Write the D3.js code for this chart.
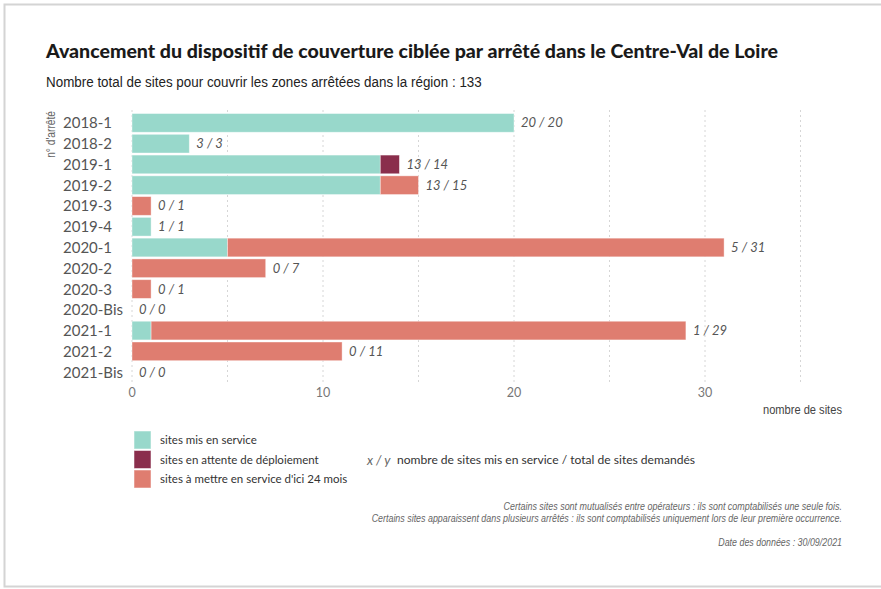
<!DOCTYPE html>
<html>
<head>
<meta charset="utf-8">
<script src="https://cdn.jsdelivr.net/npm/d3@7"></script>
<style>
  body { margin: 0; background: #fff; }
  svg { display: block; }
</style>
</head>
<body>
<script>
// data
const arretes = ["2018-1", "2018-2", "2019-1", "2019-2", "2019-3", "2019-4", "2020-1", "2020-2", "2020-3", "2020-Bis", "2021-1", "2021-2", "2021-Bis"];
const enService = [20, 3, 13, 13, 0, 1, 5, 0, 0, 0, 1, 0, 0];
const enAttente = [0, 0, 1, 0, 0, 0, 0, 0, 0, 0, 0, 0, 0];
const aMettre = [0, 0, 0, 2, 1, 0, 26, 7, 1, 0, 28, 11, 0];
const xTicks = [0, 10, 20, 30];
const gridTicks = [0, 5, 10, 15, 20, 25, 30, 35];
const seriesNames = ["sites mis en service", "sites en attente de déploiement", "sites à mettre en service d'ici 24 mois"];
const seriesColors = ["#98d8cb", "#8a2e4c", "#df7d70"];
const notes = [
  "Certains sites sont mutualisés entre opérateurs : ils sont comptabilisés une seule fois.",
  "Certains sites apparaissent dans plusieurs arrêtés : ils sont comptabilisés uniquement lors de leur première occurrence.",
  "Date des données : 30/09/2021"
];

const width = 881, height = 589;
const narrow = "'Liberation Sans', Arial, sans-serif";
const geo = "Lato, 'Open Sans', sans-serif";

const svg = d3.select("body").append("svg").attr("width", width).attr("height", height);

// squeeze a narrow-looking text to a target width (no condensed font installed)
function squeeze(sel, x0, w) {
  sel.each(function() {
    const k = w / this.getComputedTextLength();
    d3.select(this).attr("transform", `translate(${x0},0) scale(${k},1) translate(${-x0},0)`);
  });
  return sel;
}

// frame
svg.append("rect").attr("x", 4.5).attr("y", 4.5).attr("width", width + 10).attr("height", 582)
  .attr("fill", "none").attr("stroke", "#d4d4d4").attr("stroke-width", 2);

svg.append("text").attr("x", 46).attr("y", 58).attr("font-family", geo).attr("font-weight", "900")
  .attr("font-size", "18px").attr("fill", "#1a1a1a")
  .attr("textLength", 732).attr("lengthAdjust", "spacingAndGlyphs")
  .text("Avancement du dispositif de couverture ciblée par arrêté dans le Centre-Val de Loire");
svg.append("text").attr("x", 46).attr("y", 87).attr("font-family", narrow).attr("font-size", "15px").attr("fill", "#222")
  .text("Nombre total de sites pour couvrir les zones arrêtées dans la région : 133")
  .call(squeeze, 46, 436);

const x = d3.scaleLinear().domain([0, 35]).range([132, 800.5]);
const y = d3.scaleBand().domain(arretes).range([112.5, 382.5]).paddingInner(0.1).paddingOuter(0.05);

// grid
svg.append("g").selectAll("line").data(gridTicks).join("line")
  .attr("x1", d => x(d)).attr("x2", d => x(d)).attr("y1", 110).attr("y2", 384)
  .attr("stroke", "#d6d6d6").attr("stroke-dasharray", "2,3").attr("stroke-width", 1);

const rows = arretes.map((a, i) => ({arrete: a, service: enService[i], attente: enAttente[i], mettre: aMettre[i]}));
const stack = d3.stack().keys(["service", "attente", "mettre"])(rows);

svg.append("g").selectAll("g").data(stack).join("g")
  .attr("fill", (d, i) => seriesColors[i])
  .selectAll("rect").data(d => d.filter(p => p[1] > p[0])).join("rect")
  .attr("x", d => x(d[0])).attr("y", d => y(d.data.arrete))
  .attr("width", d => x(d[1]) - x(d[0])).attr("height", y.bandwidth())
  .attr("stroke", "#fff").attr("stroke-opacity", 0.5).attr("stroke-width", 0.8);

// value labels
svg.append("g").selectAll("text").data(rows).join("text")
  .attr("x", d => x(d.service + d.attente + d.mettre) + 7)
  .attr("y", d => y(d.arrete) + y.bandwidth() / 2 + 4.5)
  .attr("font-family", geo).attr("font-style", "italic").attr("font-size", "13px").attr("fill", "#555")
  .text(d => `${d.service} / ${d.service + d.attente + d.mettre}`);

// y axis labels
svg.append("g").selectAll("text").data(arretes).join("text")
  .attr("x", 63).attr("y", d => y(d) + y.bandwidth() / 2 + 5.5)
  .attr("font-family", geo).attr("font-size", "15px").attr("fill", "#555").text(d => d);
svg.append("text").attr("transform", "translate(55,111) rotate(-90) scale(0.85,1)").attr("text-anchor", "end")
  .attr("font-family", narrow).attr("font-size", "12px").attr("fill", "#666").text("n° d'arrêté");

// x axis
svg.append("g").selectAll("text").data(xTicks).join("text")
  .attr("x", d => x(d)).attr("y", 397).attr("text-anchor", "middle")
  .attr("font-family", geo).attr("font-size", "12.5px").attr("fill", "#777").text(d => d);
svg.append("text").attr("x", 763).attr("y", 414)
  .attr("font-family", narrow).attr("font-size", "12.5px").attr("fill", "#444")
  .text("nombre de sites").call(squeeze, 763, 79);

// legend
const leg = svg.append("g").attr("transform", "translate(134,431)");
leg.selectAll("rect").data(seriesNames).join("rect")
  .attr("x", 0).attr("y", (d, i) => i * 19.5).attr("width", 17).attr("height", 18)
  .attr("fill", (d, i) => seriesColors[i]).attr("stroke", "#fff").attr("stroke-opacity", 0.5);
leg.selectAll("text").data(seriesNames).join("text")
  .attr("x", 26).attr("y", (d, i) => i * 19.5 + 13)
  .attr("font-family", geo).attr("font-size", "11.5px").attr("fill", "#333").text(d => d);

svg.append("text").attr("x", 367).attr("y", 465).attr("font-family", geo).attr("font-style", "italic")
  .attr("font-size", "13px").attr("fill", "#666").text("x / y");
svg.append("text").attr("x", 397).attr("y", 464).attr("font-family", geo)
  .attr("font-size", "12px").attr("fill", "#333")
  .attr("textLength", 298).attr("lengthAdjust", "spacingAndGlyphs")
  .text("nombre de sites mis en service / total de sites demandés");

// notes, right aligned
const noteY = [510, 522, 546];
const noteW = [339, 471, 124];
svg.append("g").selectAll("text").data(notes).join("text")
  .attr("x", 842).attr("y", (d, i) => noteY[i]).attr("text-anchor", "end")
  .attr("font-family", narrow).attr("font-style", "italic").attr("font-size", "10px").attr("fill", "#666")
  .text(d => d)
  .each(function(d, i) { d3.select(this).call(squeeze, 842, noteW[i]); });
</script>
</body>
</html>
